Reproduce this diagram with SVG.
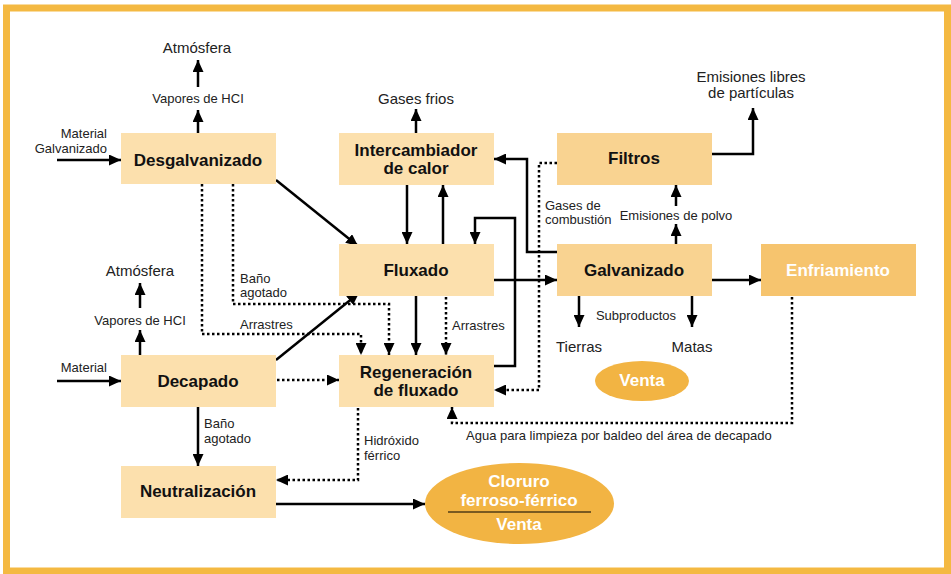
<svg xmlns="http://www.w3.org/2000/svg" width="951" height="574" viewBox="0 0 951 574">
<style>
.box{fill:#FCE0AD}
.box2{fill:#F9D391}
.box3{fill:#F6C46E}
.ell{fill:#F2B443}
.t{font-family:"Liberation Sans",Arial,sans-serif;font-weight:bold;font-size:17px;fill:#111;text-anchor:middle}
.tw{fill:#fff}
.l{font-family:"Liberation Sans",Arial,sans-serif;font-size:13px;fill:#222}
.lc{text-anchor:middle}
.big{font-size:15px}
.s{fill:none;stroke:#000;stroke-width:2.5}
.d{fill:none;stroke:#000;stroke-width:2.5;stroke-dasharray:2.5 2.5}
</style>
<defs>
<marker id="ah" markerWidth="12" markerHeight="11" refX="12" refY="5.5" orient="auto" markerUnits="userSpaceOnUse"><path d="M0,0 L12,5.5 L0,11 z" fill="#000"/></marker>
</defs>
<rect x="0" y="0" width="951" height="574" fill="#fff"/>
<rect x="6.5" y="8" width="941" height="563" fill="none" stroke="#F4B942" stroke-width="7"/>

<g id="connectors">
<line class="s" x1="198" y1="133" x2="198" y2="110" marker-end="url(#ah)"/>
<line class="s" x1="198" y1="87" x2="198" y2="60" marker-end="url(#ah)"/>
<line class="s" x1="57" y1="160" x2="121" y2="160" marker-end="url(#ah)"/>
<line class="s" x1="276" y1="180" x2="358" y2="246" marker-end="url(#ah)"/>
<path class="d" d="M202,184 V334 H361 V355" marker-end="url(#ah)"/>
<path class="d" d="M233,184 V304 H389 V355" marker-end="url(#ah)"/>
<line class="s" x1="140" y1="355" x2="140" y2="330" marker-end="url(#ah)"/>
<line class="s" x1="140" y1="308" x2="140" y2="283" marker-end="url(#ah)"/>
<line class="s" x1="57" y1="381" x2="121" y2="381" marker-end="url(#ah)"/>
<line class="s" x1="276" y1="360" x2="359" y2="293" marker-end="url(#ah)"/>
<line class="d" x1="277" y1="380" x2="339" y2="380" marker-end="url(#ah)"/>
<line class="s" x1="198" y1="407" x2="198" y2="466" marker-end="url(#ah)"/>
<line class="s" x1="416" y1="133" x2="416" y2="109" marker-end="url(#ah)"/>
<line class="s" x1="407" y1="185" x2="407" y2="244" marker-end="url(#ah)"/>
<line class="s" x1="443" y1="244" x2="443" y2="185" marker-end="url(#ah)"/>
<line class="s" x1="416" y1="296" x2="416" y2="355" marker-end="url(#ah)"/>
<line class="d" x1="446" y1="297" x2="446" y2="355" marker-end="url(#ah)"/>
<line class="s" x1="494" y1="280" x2="557" y2="280" marker-end="url(#ah)"/>
<path class="s" d="M494,366 H515 V218 H475 V244" marker-end="url(#ah)"/>
<path class="s" d="M557,252 H527 V159 H494" marker-end="url(#ah)"/>
<line class="s" x1="712" y1="280" x2="761" y2="280" marker-end="url(#ah)"/>
<line class="s" x1="676" y1="244" x2="676" y2="224" marker-end="url(#ah)"/>
<line class="s" x1="676" y1="206" x2="676" y2="185" marker-end="url(#ah)"/>
<line class="s" x1="579" y1="296" x2="579" y2="327" marker-end="url(#ah)"/>
<line class="s" x1="692" y1="296" x2="692" y2="327" marker-end="url(#ah)"/>
<path class="s" d="M712,154 H753 V108" marker-end="url(#ah)"/>
<path class="d" d="M557,163 H539 V390 H494" marker-end="url(#ah)"/>
<path class="d" d="M792,297 V423 H452 V407" marker-end="url(#ah)"/>
<path class="d" d="M358,408 V480 H276" marker-end="url(#ah)"/>
<line class="s" x1="276" y1="504" x2="425" y2="504" marker-end="url(#ah)"/>
</g>

<g id="desgalvanizado"><rect class="box" x="121" y="133" width="155" height="51"/><text class="t" x="198" y="166">Desgalvanizado</text></g>
<g id="intercambiador"><rect class="box" x="339" y="133" width="155" height="52"/><text class="t" x="416" y="156">Intercambiador</text><text class="t" x="416" y="174">de calor</text></g>
<g id="filtros"><rect class="box2" x="557" y="133" width="155" height="52"/><text class="t" x="634" y="164">Filtros</text></g>
<g id="fluxado"><rect class="box" x="339" y="244" width="155" height="52"/><text class="t" x="416" y="276">Fluxado</text></g>
<g id="galvanizado"><rect class="box2" x="557" y="244" width="155" height="52"/><text class="t" x="634" y="276">Galvanizado</text></g>
<g id="enfriamiento"><rect class="box3" x="761" y="244" width="155" height="52"/><text class="t tw" x="838" y="276">Enfriamiento</text></g>
<g id="decapado"><rect class="box" x="121" y="355" width="155" height="52"/><text class="t" x="198" y="387">Decapado</text></g>
<g id="regeneracion"><rect class="box" x="339" y="355" width="155" height="52"/><text class="t" x="416" y="378">Regeneración</text><text class="t" x="416" y="396">de fluxado</text></g>
<g id="neutralizacion"><rect class="box" x="121" y="466" width="155" height="52"/><text class="t" x="198" y="497">Neutralización</text></g>
<g id="venta"><ellipse class="ell" cx="642" cy="381" rx="47" ry="20"/><text class="t tw" x="642" y="386">Venta</text></g>
<g id="cloruro"><ellipse class="ell" cx="519.5" cy="503.5" rx="94.5" ry="40.5"/><line x1="448" y1="512" x2="591" y2="512" stroke="#000" stroke-width="1.2"/><text class="t tw" x="519" y="487">Cloruro</text><text class="t tw" x="519" y="506">ferroso-férrico</text><text class="t tw" x="519" y="530">Venta</text></g>

<g id="labels">
<text class="l lc big" x="197" y="53">Atmósfera</text>
<text class="l lc" x="198" y="103">Vapores de HCI</text>
<text class="l" x="107" y="138" text-anchor="end">Material</text>
<text class="l" x="107" y="153" text-anchor="end">Galvanizado</text>
<text class="l" x="240" y="283">Baño</text>
<text class="l" x="240" y="297">agotado</text>
<text class="l" x="240" y="329">Arrastres</text>
<text class="l lc big" x="140" y="276">Atmósfera</text>
<text class="l lc" x="140" y="325">Vapores de HCI</text>
<text class="l" x="107" y="372" text-anchor="end">Material</text>
<text class="l" x="204" y="428">Baño</text>
<text class="l" x="204" y="443">agotado</text>
<text class="l lc big" x="416" y="104">Gases frios</text>
<text class="l" x="452" y="330">Arrastres</text>
<text class="l" x="545" y="210">Gases de</text>
<text class="l" x="545" y="224">combustión</text>
<text class="l lc" x="676" y="220">Emisiones de polvo</text>
<text class="l lc big" x="751" y="82">Emisiones libres</text>
<text class="l lc big" x="751" y="98">de partículas</text>
<text class="l lc" x="636" y="320">Subproductos</text>
<text class="l lc big" x="579" y="352">Tierras</text>
<text class="l lc big" x="692" y="352">Matas</text>
<text class="l" x="466" y="440">Agua para limpieza por baldeo del área de decapado</text>
<text class="l" x="364" y="445">Hidróxido</text>
<text class="l" x="364" y="460">férrico</text>
</g>
</svg>
